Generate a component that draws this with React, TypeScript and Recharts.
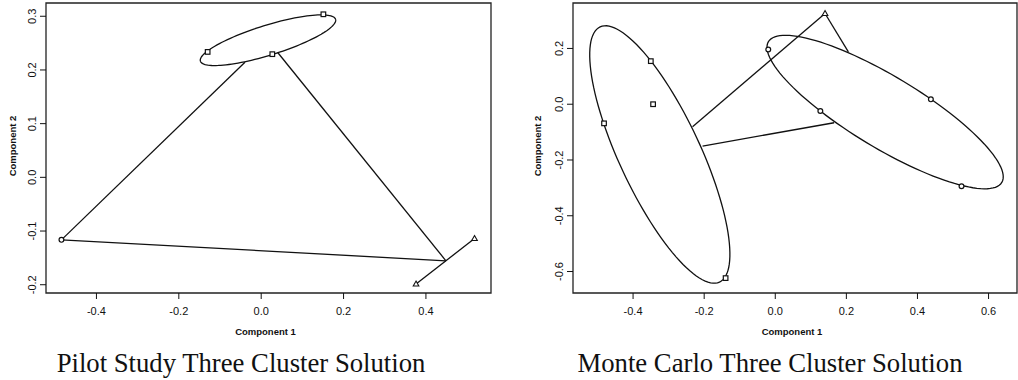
import React from "react";
import {
  ReferenceArea,
  Scatter,
  ScatterChart,
  XAxis,
  YAxis,
  Label,
} from "recharts";

// ---- Pilot study (left panel) ----
const pilotXTicks = [-0.4, -0.2, 0, 0.2, 0.4];
const pilotYTicks = [-0.2, -0.1, 0, 0.1, 0.2, 0.3];
const pilotXDomain = [-0.5225, 0.558];
const pilotYDomain = [-0.2154, 0.3247];

const pilotSquares = [
  { x: -0.13, y: 0.2336 },
  { x: 0.151, y: 0.3037 },
  { x: 0.027, y: 0.2294 },
];
const pilotCircles = [{ x: -0.485, y: -0.1164 }];
const pilotTriangles = [
  { x: 0.518, y: -0.1139 },
  { x: 0.376, y: -0.1987 },
];
const pilotLinks = [
  [{ x: -0.0394, y: 0.2145 }, { x: -0.485, y: -0.1164 }],
  [{ x: 0.0401, y: 0.2325 }, { x: 0.4486, y: -0.1554 }],
  [{ x: -0.485, y: -0.1164 }, { x: 0.4486, y: -0.1554 }],
  [{ x: 0.518, y: -0.1139 }, { x: 0.376, y: -0.1987 }],
];
// ellipse: centre and two conjugate semi-axis vectors (data units)
const pilotEllipses = [
  { cx: 0.0165, cy: 0.2554, ux: 0.1641, uy: 0.039, vx: 0.0108, vy: -0.0266 },
];

// ---- Monte Carlo (right panel) ----
const monteXTicks = [-0.4, -0.2, 0, 0.2, 0.4, 0.6];
const monteYTicks = [-0.6, -0.4, -0.2, 0, 0.2];
const monteXDomain = [-0.569, 0.68];
const monteYDomain = [-0.677, 0.363];

const monteSquares = [
  { x: -0.4817, y: -0.0686 },
  { x: -0.3437, y: 0.0 },
  { x: -0.3501, y: 0.1545 },
  { x: -0.1397, y: -0.6236 },
];
const monteCircles = [
  { x: -0.0197, y: 0.1964 },
  { x: 0.1268, y: -0.0245 },
  { x: 0.4377, y: 0.0174 },
  { x: 0.5239, y: -0.2942 },
];
const monteTriangles = [{ x: 0.14, y: 0.3253 }];
const monteLinks = [
  [{ x: 0.14, y: 0.3253 }, { x: 0.2056, y: 0.1878 }],
  [{ x: 0.14, y: 0.3253 }, { x: -0.2327, y: -0.0808 }],
  [{ x: -0.2045, y: -0.1499 }, { x: 0.1654, y: -0.0664 }],
];
const monteEllipses = [
  { cx: -0.3248, cy: -0.1803, ux: 0.1679, uy: -0.4577, vx: 0.1034, vy: 0.0612 },
  { cx: 0.309, cy: -0.0281, ux: 0.3282, uy: -0.2525, vx: -0.0521, vy: -0.1096 },
];

const INK = "#111";

const outline = (e: any) =>
  Array.from({ length: 121 }, (_, i) => {
    const t = (i / 120) * Math.PI * 2;
    return {
      x: e.cx + Math.cos(t) * e.ux + Math.sin(t) * e.vx,
      y: e.cy + Math.cos(t) * e.uy + Math.sin(t) * e.vy,
    };
  });

const Nothing = () => <g />;
const Square = ({ cx, cy }: any) => (
  <rect x={cx - 2.3} y={cy - 2.3} width={4.6} height={4.6} fill="#fff" stroke={INK} strokeWidth={1.2} />
);
const Circ = ({ cx, cy }: any) => (
  <circle cx={cx} cy={cy} r={2.4} fill="#fff" stroke={INK} strokeWidth={1.2} />
);
const Tri = ({ cx, cy }: any) => (
  <path d={`M${cx},${cy - 3} L${cx + 2.8},${cy + 2} L${cx - 2.8},${cy + 2} Z`} fill="#fff" stroke={INK} strokeWidth={1.1} />
);

const fmt = (v: number) => v.toFixed(1);

const XTick = ({ x, y, payload }: any) => (
  <text x={x} y={y + 16} textAnchor="middle" fontSize={11} fontFamily="Liberation Sans" fill={INK}>
    {fmt(payload.value)}
  </text>
);
const YTick = ({ x, y, payload }: any) => (
  <text
    x={x - 3.5}
    y={y}
    transform={`rotate(-90, ${x - 3.5}, ${y})`}
    textAnchor="middle"
    fontSize={11}
    fontFamily="Liberation Sans"
    fill={INK}
  >
    {fmt(payload.value)}
  </text>
);

const Panel = ({ xTicks, yTicks, xDomain, yDomain, squares, circles, triangles, links, ellipses, yAxisWidth, rightMargin, yTitleX }: any) => (
  <ScatterChart width={509} height={345} margin={{ top: 3, right: rightMargin, left: 0, bottom: 7 }}>
    <XAxis
      type="number"
      dataKey="x"
      domain={xDomain}
      ticks={xTicks}
      allowDataOverflow
      axisLine={false}
      tickLine={{ stroke: INK }}
      tickSize={6}
      tickMargin={0}
      tick={<XTick />}
      height={45}
    >
      <Label
        content={({ viewBox }: any) => (
          <text
            x={viewBox.x + viewBox.width / 2 - 3}
            y={viewBox.y + 42}
            textAnchor="middle"
            fontSize={9.5}
            fontWeight="bold"
            fontFamily="Liberation Sans"
            fill={INK}
          >
            Component 1
          </text>
        )}
      />
    </XAxis>
    <YAxis
      type="number"
      dataKey="y"
      domain={yDomain}
      ticks={yTicks}
      allowDataOverflow
      axisLine={false}
      tickLine={{ stroke: INK }}
      tickSize={6}
      tickMargin={0}
      tick={<YTick />}
      width={yAxisWidth}
    >
      <Label
        content={({ viewBox }: any) => {
          const cx = viewBox.x + yTitleX;
          const cy = viewBox.y + viewBox.height / 2 - 2;
          return (
            <text
              x={cx}
              y={cy}
              transform={`rotate(-90, ${cx}, ${cy})`}
              textAnchor="middle"
              fontSize={9.5}
              fontWeight="bold"
              fontFamily="Liberation Sans"
              fill={INK}
            >
              Component 2
            </text>
          );
        }}
      />
    </YAxis>
    <ReferenceArea x1={xDomain[0]} x2={xDomain[1]} y1={yDomain[0]} y2={yDomain[1]} fill="none" stroke="#222" strokeWidth={1.3} />
    {ellipses.map((e: any, i: number) => (
      <Scatter key={`e${i}`} data={outline(e)} line={{ stroke: INK, strokeWidth: 1.3 }} lineType="joint" shape={<Nothing />} isAnimationActive={false} />
    ))}
    {links.map((l: any, i: number) => (
      <Scatter key={`l${i}`} data={l} line={{ stroke: INK, strokeWidth: 1.3 }} lineType="joint" shape={<Nothing />} isAnimationActive={false} />
    ))}
    <Scatter data={squares} shape={<Square />} isAnimationActive={false} />
    <Scatter data={circles} shape={<Circ />} isAnimationActive={false} />
    <Scatter data={triangles} shape={<Tri />} isAnimationActive={false} />
  </ScatterChart>
);

const titleStyle: React.CSSProperties = {
  position: "absolute",
  top: 350,
  fontFamily: "Liberation Serif",
  fontSize: 26.7,
  lineHeight: "27px",
  color: INK,
  whiteSpace: "nowrap",
  transform: "translateX(-50%)",
};

export default function App() {
  return (
    <div style={{ position: "absolute", left: 0, top: 0, width: 1018, height: 380, background: "#fff", overflow: "hidden" }}>
      <div style={{ position: "absolute", left: 0, top: 0 }}>
        <Panel
          xTicks={pilotXTicks}
          yTicks={pilotYTicks}
          xDomain={pilotXDomain}
          yDomain={pilotYDomain}
          squares={pilotSquares}
          circles={pilotCircles}
          triangles={pilotTriangles}
          links={pilotLinks}
          ellipses={pilotEllipses}
          yAxisWidth={46}
          rightMargin={18}
          yTitleX={16}
        />
      </div>
      <div style={{ position: "absolute", left: 509, top: 0 }}>
        <Panel
          xTicks={monteXTicks}
          yTicks={monteYTicks}
          xDomain={monteXDomain}
          yDomain={monteYDomain}
          squares={monteSquares}
          circles={monteCircles}
          triangles={monteTriangles}
          links={monteLinks}
          ellipses={monteEllipses}
          yAxisWidth={64}
          rightMargin={1}
          yTitleX={32}
        />
      </div>
      <div style={{ ...titleStyle, left: 241 }}>Pilot Study Three Cluster Solution</div>
      <div style={{ ...titleStyle, left: 770 }}>Monte Carlo Three Cluster Solution</div>
    </div>
  );
}
